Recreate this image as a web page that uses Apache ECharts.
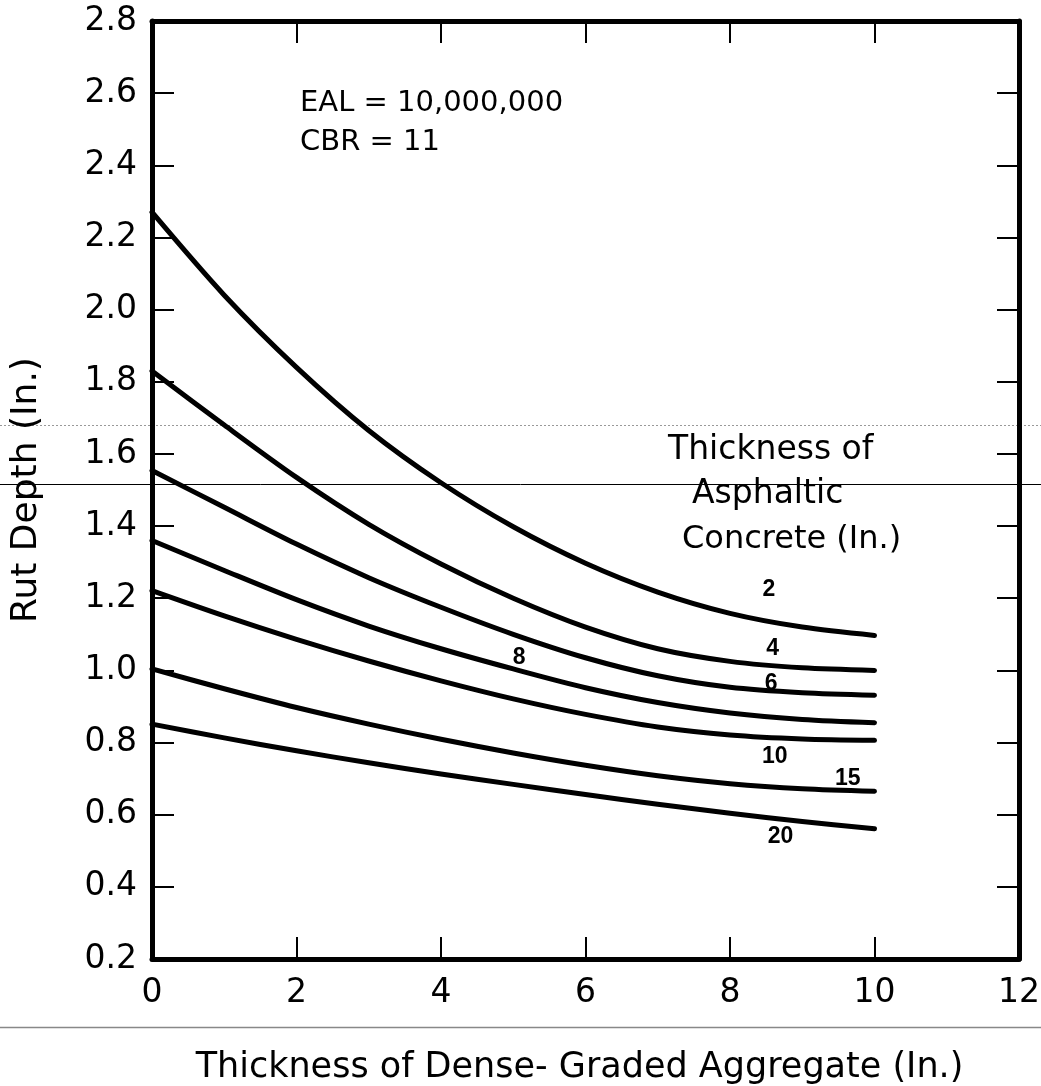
<!DOCTYPE html>
<html>
<head>
<meta charset="utf-8">
<script src="https://cdn.jsdelivr.net/npm/echarts@6/dist/echarts.min.js"></script>
<style>
html,body{margin:0;padding:0;background:#fff;}
#chart{width:1041px;height:1086px;}
</style>
</head>
<body>
<div id="chart"></div>
<script>
// ---- data ----
var xThickness = [0, 1, 2, 3, 4, 5, 6, 7, 8, 9, 10];
var curveNames = ['2', '4', '6', '8', '10', '15', '20'];
var rut2  = [2.27, 2.04, 1.84, 1.665, 1.52, 1.398, 1.297, 1.217, 1.158, 1.12, 1.097];
var rut4  = [1.83, 1.68, 1.535, 1.405, 1.295, 1.20, 1.12, 1.06, 1.025, 1.007, 1.000];
var rut6  = [1.554, 1.452, 1.35, 1.257, 1.175, 1.10, 1.035, 0.985, 0.953, 0.938, 0.931];
var rut8  = [1.360, 1.277, 1.196, 1.123, 1.060, 1.004, 0.952, 0.911, 0.882, 0.864, 0.855];
var rut10 = [1.221, 1.151, 1.086, 1.026, 0.971, 0.921, 0.878, 0.843, 0.821, 0.810, 0.806];
var rut15 = [1.004, 0.949, 0.897, 0.851, 0.809, 0.771, 0.737, 0.708, 0.686, 0.672, 0.665];
var rut20 = [0.851, 0.813, 0.777, 0.744, 0.713, 0.684, 0.656, 0.629, 0.604, 0.581, 0.561];
var curveValues = [rut2, rut4, rut6, rut8, rut10, rut15, rut20];
// curve label anchors (data coordinates)
var labelX = [8.54, 8.59, 8.57, 5.08, 8.62, 9.63, 8.70];
var labelY = [1.224, 1.059, 0.962, 1.034, 0.760, 0.700, 0.540];
var xTicks = [0, 2, 4, 6, 8, 10, 12];
var yTickLabels = ['0.2','0.4','0.6','0.8','1.0','1.2','1.4','1.6','1.8','2.0','2.2','2.4','2.6','2.8'];

var FONT = 'DejaVu Sans';
var chart = echarts.init(document.getElementById('chart'), null, {renderer: 'canvas'});

var series = curveValues.map(function (vals, i) {
  return {
    type: 'line',
    name: curveNames[i],
    smooth: 0.3,
    showSymbol: false,
    symbol: 'none',
    xAxisIndex: 0, yAxisIndex: 0,
    lineStyle: {color: '#000', width: 5, cap: 'round', join: 'round'},
    data: xThickness.map(function (x, j) { return [x, vals[j]]; }),
    z: 3
  };
});
series.push({
  type: 'scatter',
  symbolSize: 1,
  xAxisIndex: 0, yAxisIndex: 0,
  itemStyle: {opacity: 0},
  data: curveNames.map(function (n, i) { return {value: [labelX[i], labelY[i]], name: n}; }),
  label: {
    show: true, position: 'inside', formatter: '{b}', opacity: 1,
    fontFamily: 'Liberation Sans', fontWeight: 'bold', fontSize: 23, color: '#000'
  },
  z: 4
});

function axisCommon() {
  return {
    axisLine: {show: true, onZero: false, lineStyle: {color: '#000', width: 5}},
    axisTick: {show: true, inside: true, length: 22, lineStyle: {color: '#000', width: 2}},
    splitLine: {show: false}
  };
}

var option = {
  backgroundColor: '#fff',
  animation: false,
  grid: {left: 152, right: 22, top: 21, bottom: 127, containLabel: false, outerBoundsMode: 'none'},
  xAxis: [
    Object.assign({
      type: 'value', position: 'bottom', min: 0, max: 12, interval: 2,
      name: 'Thickness of Dense- Graded Aggregate (In.)',
      nameLocation: 'middle', nameGap: 91,
      nameTextStyle: {fontFamily: FONT, fontSize: 35, color: '#000', padding: [0, 12, 0, 0]},
      axisLabel: {show: true, margin: 18, fontFamily: FONT, fontSize: 33, color: '#000',
        formatter: function (v) { return xTicks.indexOf(v) >= 0 ? String(v) : ''; }}
    }, axisCommon()),
    Object.assign({
      type: 'value', position: 'top', min: 0, max: 12, interval: 2,
      axisLabel: {show: false}
    }, axisCommon())
  ],
  yAxis: [
    Object.assign({
      type: 'value', position: 'left', min: 0.2, max: 2.8, interval: 0.2,
      name: 'Rut Depth (In.)', nameLocation: 'middle', nameGap: 107, nameRotate: 90,
      nameTextStyle: {fontFamily: FONT, fontSize: 36, color: '#000'},
      axisLabel: {show: true, margin: 15, fontFamily: FONT, fontSize: 33, color: '#000',
        formatter: function (v) {
          var idx = Math.round((v - 0.2) / 0.2);
          return yTickLabels[idx] || '';
        }}
    }, axisCommon()),
    Object.assign({
      type: 'value', position: 'right', min: 0.2, max: 2.8, interval: 0.2,
      axisLabel: {show: false}
    }, axisCommon())
  ],
  graphic: [
    {type: 'text', left: 300, top: 89, style: {text: 'EAL = 10,000,000', font: '29px "DejaVu Sans"', fill: '#000'}},
    {type: 'text', left: 300, top: 128, style: {text: 'CBR = 11', font: '29px "DejaVu Sans"', fill: '#000'}},
    {type: 'text', left: 668, top: 434, style: {text: 'Thickness of', font: '33px "DejaVu Sans"', fill: '#000'}},
    {type: 'text', left: 692, top: 478, style: {text: 'Asphaltic', font: '33px "DejaVu Sans"', fill: '#000'}},
    {type: 'text', left: 682, top: 524, style: {text: 'Concrete (In.)', font: '32px "DejaVu Sans"', fill: '#000'}},
    // scan artefacts visible in the reference
    {type: 'line', shape: {x1: 0, y1: 425.5, x2: 1041, y2: 425.5}, style: {stroke: '#999', lineWidth: 1, lineDash: [2, 2]}},
    {type: 'line', shape: {x1: 0, y1: 484.5, x2: 1041, y2: 484.5}, style: {stroke: '#000', lineWidth: 1}},
    {type: 'line', shape: {x1: 0, y1: 1027.5, x2: 1041, y2: 1027.5}, style: {stroke: '#888', lineWidth: 1.5}}
  ],
  series: series
};
chart.setOption(option);
</script>
</body>
</html>
